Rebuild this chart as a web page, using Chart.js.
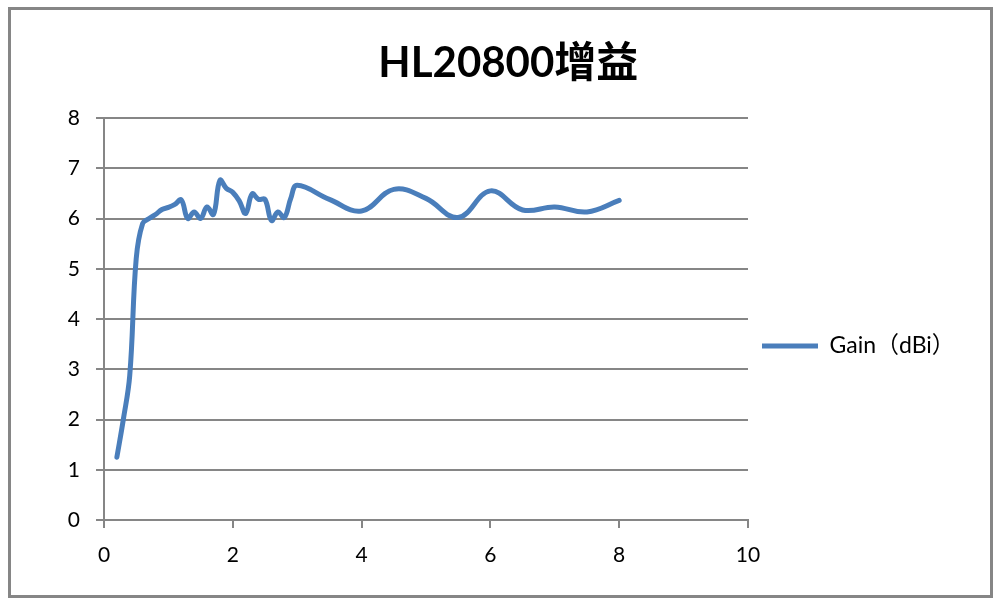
<!DOCTYPE html>
<html>
<head>
<meta charset="utf-8">
<script src="https://cdn.jsdelivr.net/npm/chart.js@4"></script>
<style>
  html, body { margin: 0; padding: 0; background: #ffffff; }
  canvas { display: block; }
</style>
</head>
<body>
<canvas id="c" width="1001" height="606"></canvas>
<script>
// ---- data ----
const chartTitle = 'HL20800增益';
const seriesName = 'Gain（dBi）';
const freqs = [0.2, 0.3, 0.4, 0.5, 0.6, 0.7, 0.8, 0.9, 1.0, 1.1, 1.2, 1.3, 1.4, 1.5, 1.6, 1.7, 1.8, 1.9, 2.0,
               2.1, 2.2, 2.3, 2.4, 2.5, 2.6, 2.7, 2.8, 2.9, 3.0, 3.5, 4.0, 4.5, 5.0, 5.5, 6.0, 6.5, 7.0, 7.5, 8.0];
const gains = [1.25, 2.0, 2.88, 5.2, 5.9, 6.0, 6.08, 6.18, 6.22, 6.28, 6.37, 6.0, 6.13, 6.0, 6.23, 6.08, 6.76, 6.6, 6.52,
               6.35, 6.1, 6.49, 6.38, 6.38, 5.96, 6.13, 6.02, 6.4, 6.66, 6.38, 6.15, 6.58, 6.4, 6.02, 6.55, 6.17, 6.23, 6.13, 6.36];
const xMin = 0, xMax = 10, xStep = 2;
const yMin = 0, yMax = 8, yStep = 1;

const FONT = "Lato, 'Noto Sans CJK SC', sans-serif";
const GRID = '#868686';
const BLUE = '#4a7ebb';

const points = freqs.map((f, i) => ({ x: f, y: gains[i] }));

const framePlugin = {
  id: 'frame',
  beforeDraw(chart) {
    const ctx = chart.ctx;
    ctx.save();
    ctx.fillStyle = '#ffffff';
    ctx.fillRect(0, 0, chart.width, chart.height);
    ctx.strokeStyle = GRID;
    ctx.lineWidth = 3;
    ctx.strokeRect(9.5, 8.5, 982, 588);
    ctx.restore();
  }
};

const legendShift = {
  id: 'legendShift',
  afterLayout(chart) {
    const lg = chart.legend;
    if (!lg) return;
    const s = 346 - (lg.top + lg.bottom) / 2;
    lg.top += s;
    lg.bottom += s;
  }
};

const chart = new Chart(document.getElementById('c'), {
  type: 'line',
  data: {
    datasets: [{
      label: seriesName,
      data: points,
      borderColor: BLUE,
      backgroundColor: BLUE,
      borderWidth: 5,
      borderCapStyle: 'round',
      borderJoinStyle: 'round',
      pointRadius: 0,
      tension: 0.4,
      fill: false
    }]
  },
  options: {
    responsive: false,
    animation: false,
    devicePixelRatio: 1,
    layout: { padding: { left: 20, right: 40, top: 38, bottom: 40 } },
    plugins: {
      title: {
        display: true,
        text: chartTitle,
        color: '#000000',
        font: { family: FONT, size: 42, weight: 'bold', lineHeight: 1.2 },
        padding: { top: 0, bottom: 20 }
      },
      legend: {
        display: true,
        position: 'right',
        align: 'center',
        labels: {
          usePointStyle: true,
          pointStyle: 'line',
          pointStyleWidth: 56,
          padding: 14,
          color: '#000000',
          font: { family: FONT, size: 23 }
        }
      },
      tooltip: { enabled: false }
    },
    scales: {
      x: {
        type: 'linear',
        min: xMin, max: xMax,
        ticks: { stepSize: xStep, color: '#000000', font: { family: FONT, size: 21 }, padding: 15 },
        grid: { display: true, drawOnChartArea: false, drawTicks: true, tickLength: 8, color: GRID, lineWidth: 2 },
        border: { display: true, color: GRID, width: 2 }
      },
      y: {
        type: 'linear',
        min: yMin, max: yMax,
        ticks: { stepSize: yStep, color: '#000000', font: { family: FONT, size: 21 }, padding: 16 },
        grid: { display: true, drawOnChartArea: true, drawTicks: true, tickLength: 8, color: GRID, lineWidth: 2 },
        border: { display: true, color: GRID, width: 2 }
      }
    }
  },
  plugins: [framePlugin, legendShift]
});

// align plot area with the reference frame
const ca = chart.chartArea;
const o = chart.options;
o.layout.padding.left += 104 - ca.left;
o.layout.padding.right += ca.right - 748;
o.layout.padding.bottom += ca.bottom - 520;
o.plugins.title.padding.bottom += 118 - ca.top;
chart.update('none');
</script>
</body>
</html>
